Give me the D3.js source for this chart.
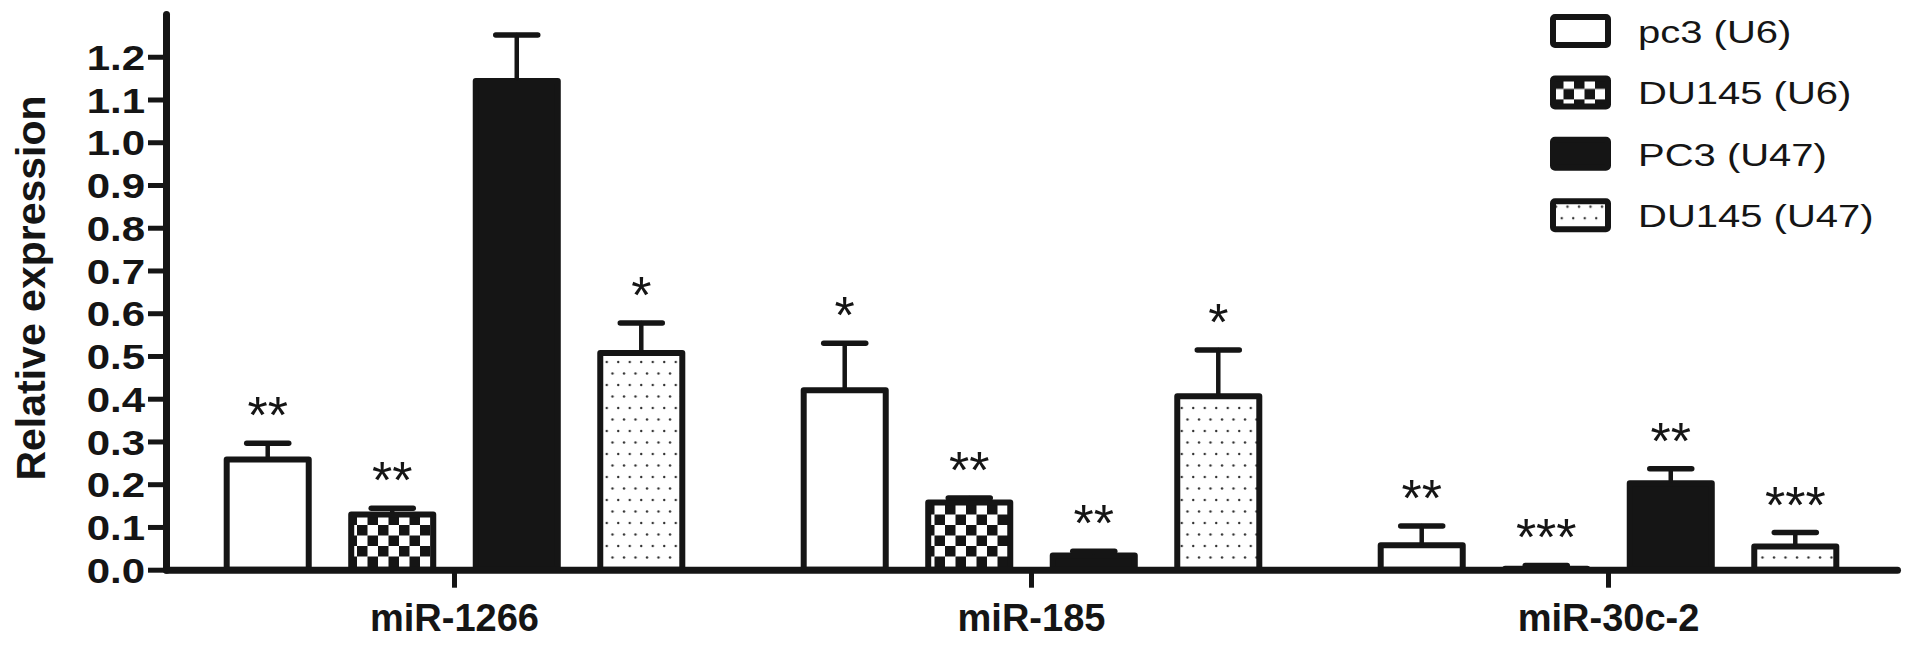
<!DOCTYPE html>
<html><head><meta charset="utf-8">
<script src="https://cdn.jsdelivr.net/npm/d3@7"></script>
<style>body{margin:0;background:#fff}svg{display:block}</style>
</head><body>
<svg id="chart" width="1913" height="646"></svg>
<script>
// ---- data ----
const categories = ["miR-1266", "miR-185", "miR-30c-2"];
const seriesNames = ["pc3 (U6)", "DU145 (U6)", "PC3 (U47)", "DU145 (U47)"];
const pc3U6      = [0.265, 0.427, 0.064];
const pc3U6Err   = [0.031, 0.103, 0.038];
const du145U6    = [0.136, 0.164, 0.009];
const du145U6Err = [0.008, 0.004, 0.001];
const pc3U47     = [1.150, 0.040, 0.209];
const pc3U47Err  = [0.101, 0.003, 0.027];
const du145U47   = [0.514, 0.413, 0.061];
const du145U47Err= [0.063, 0.101, 0.026];
const pc3U6Sig    = ["**", "*", "**"];
const du145U6Sig  = ["**", "**", "***"];
const pc3U47Sig   = ["", "**", "**"];
const du145U47Sig = ["*", "*", "***"];
const yTickValues = [0.0, 0.1, 0.2, 0.3, 0.4, 0.5, 0.6, 0.7, 0.8, 0.9, 1.0, 1.1, 1.2];
const yLabel = "Relative expression";

const seriesValues = [pc3U6, du145U6, pc3U47, du145U47];
const seriesErrors = [pc3U6Err, du145U6Err, pc3U47Err, du145U47Err];
const seriesSig = [pc3U6Sig, du145U6Sig, pc3U47Sig, du145U47Sig];

const INK = "#151515";
const FONT = "'Liberation Sans', Arial, Helvetica, sans-serif";
const svg = d3.select("#chart");

// ---- patterns ----
const defs = svg.append("defs");
const chk = defs.append("pattern").attr("id", "checker").attr("patternUnits", "userSpaceOnUse")
  .attr("width", 21).attr("height", 21);
chk.append("rect").attr("width", 21).attr("height", 21).attr("fill", "#fff");
chk.append("rect").attr("width", 10.5).attr("height", 10.5).attr("fill", INK);
chk.append("rect").attr("x", 10.5).attr("y", 10.5).attr("width", 10.5).attr("height", 10.5).attr("fill", INK);
const dots = defs.append("pattern").attr("id", "dots").attr("patternUnits", "userSpaceOnUse")
  .attr("width", 11.5).attr("height", 23);
dots.append("rect").attr("width", 11.5).attr("height", 23).attr("fill", "#fff");
dots.append("circle").attr("cx", 3).attr("cy", 5.5).attr("r", 1.2).attr("fill", "#333");
dots.append("circle").attr("cx", 8.75).attr("cy", 17).attr("r", 1.2).attr("fill", "#333");
const fills = ["#fff", "url(#checker)", INK, "url(#dots)"];

// ---- scales ----
const y = d3.scaleLinear().domain([0, 1.3]).range([569.7, 14]);
const x0 = d3.scaleBand().domain(categories).range([166, 1897]).paddingInner(0.2).paddingOuter(0.1);
const x1 = d3.scaleBand().domain(seriesNames).range([0, x0.bandwidth()]).paddingInner(0.293).paddingOuter(0);

const SW = 6;
const rows = [];
categories.forEach((c, ci) => {
  seriesNames.forEach((s, si) => {
    rows.push({cat: c, s, si, v: seriesValues[si][ci], e: seriesErrors[si][ci], sig: seriesSig[si][ci]});
  });
});

// ---- bars ----
const bars = svg.append("g");
bars.selectAll("rect").data(rows).join("rect")
  .attr("x", d => x0(d.cat) + x1(d.s) + SW / 2)
  .attr("width", x1.bandwidth() - SW)
  .attr("y", d => y(d.v) + SW / 2)
  .attr("height", d => Math.max(0, y(0) - y(d.v) - SW / 2))
  .attr("fill", d => fills[d.si])
  .attr("stroke", INK).attr("stroke-width", SW).attr("stroke-linejoin", "round");

// ---- error bars ----
const eb = svg.append("g").attr("stroke", INK).attr("stroke-linecap", "round");
const cx = d => x0(d.cat) + x1(d.s) + x1.bandwidth() / 2;
eb.selectAll("line.v").data(rows).join("line").attr("class", "v")
  .attr("x1", cx).attr("x2", cx)
  .attr("y1", d => y(d.v)).attr("y2", d => y(d.v + d.e)).attr("stroke-width", 4.5);
eb.selectAll("line.c").data(rows).join("line").attr("class", "c")
  .attr("x1", d => cx(d) - 21).attr("x2", d => cx(d) + 21)
  .attr("y1", d => y(d.v + d.e)).attr("y2", d => y(d.v + d.e)).attr("stroke-width", 5.5);

// ---- significance stars ----
svg.append("g").selectAll("text").data(rows.filter(d => d.sig)).join("text")
  .attr("x", cx).attr("y", d => y(d.v + d.e) - 10)
  .attr("text-anchor", "middle")
  .style("font-family", FONT).style("font-size", "52px").attr("fill", INK)
  .text(d => d.sig);

// ---- y axis ----
const yAxis = svg.append("g").attr("transform", "translate(166,0)")
  .call(d3.axisLeft(y).tickValues(yTickValues).tickSize(18).tickSizeOuter(0).tickFormat(d3.format(".1f")));
yAxis.select(".domain").attr("stroke", INK).attr("stroke-width", 7).attr("stroke-linecap", "round");
yAxis.selectAll(".tick line").attr("stroke", INK).attr("stroke-width", 5);
yAxis.selectAll(".tick text")
  .attr("x", 0).attr("dy", "0.36em")
  .attr("transform", "translate(-21,0) scale(1.2,1)")
  .attr("fill", INK)
  .style("font-family", FONT).style("font-size", "35px").style("font-weight", "bold");

// ---- x axis ----
const xAxis = svg.append("g").attr("transform", `translate(0,${y(0)})`)
  .call(d3.axisBottom(x0).tickSize(18).tickSizeOuter(0));
xAxis.select(".domain").attr("stroke", INK).attr("stroke-width", 7).attr("stroke-linecap", "round");
xAxis.selectAll(".tick line").attr("stroke", INK).attr("stroke-width", 5);
xAxis.selectAll(".tick text").attr("y", 61).attr("dy", 0).attr("fill", INK)
  .style("font-family", FONT).style("font-size", "38px").style("font-weight", "bold");

// ---- y label ----
svg.append("text").attr("transform", "translate(45,288) rotate(-90)")
  .attr("text-anchor", "middle").attr("fill", INK)
  .style("font-family", FONT).style("font-size", "41px").style("font-weight", "bold")
  .text(yLabel);

// ---- legend ----
const lg = svg.append("g").selectAll("g").data(seriesNames).join("g")
  .attr("transform", (d, i) => `translate(1553,${17 + i * 61.4})`);
lg.append("rect").attr("width", 55).attr("height", 28).attr("rx", 2)
  .attr("fill", (d, i) => fills[i]).attr("stroke", INK).attr("stroke-width", SW).attr("stroke-linejoin", "round");
lg.append("text").attr("transform", "translate(85,26) scale(1.25,1)")
  .attr("fill", INK).style("font-family", FONT).style("font-size", "32px")
  .text(d => d);
</script>
</body></html>
